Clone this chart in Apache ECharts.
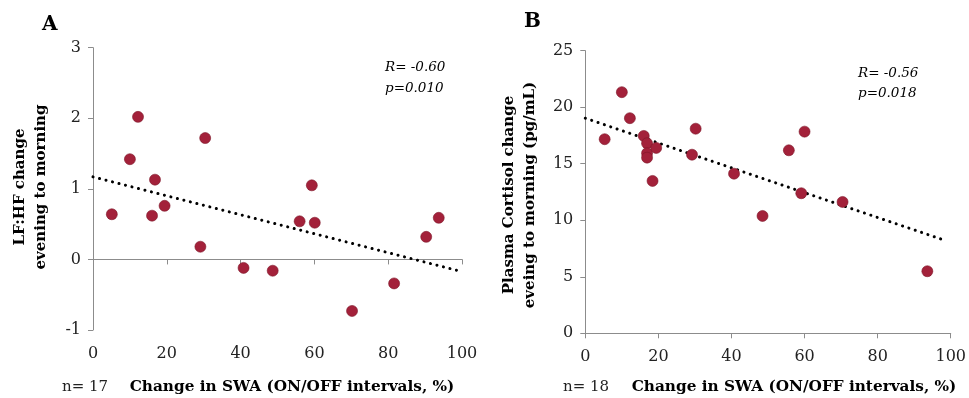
<!DOCTYPE html>
<html><head><meta charset="utf-8">
<script src="https://cdn.jsdelivr.net/npm/echarts@6/dist/echarts.min.js"></script>
<style>html,body{margin:0;padding:0;background:#fff}#c{width:969px;height:398px}</style>
</head><body><div id="c"></div>
<script>
// Panel A: LF:HF change vs change in SWA
const swaA = [5.1, 10.0, 12.2, 16.8, 16.0, 19.4, 30.4, 29.1, 40.8, 48.7, 56.0, 59.3, 60.1, 70.2, 81.6, 90.3, 93.7];
const lfhfA = [0.64, 1.42, 2.02, 1.13, 0.62, 0.76, 1.72, 0.18, -0.12, -0.16, 0.54, 1.05, 0.52, -0.73, -0.34, 0.32, 0.59];
const trendAx = [0, 99];
const trendAy = [1.17, -0.16];
// Panel B: Plasma cortisol change vs change in SWA
const swaB = [5.3, 10.0, 12.2, 16.0, 16.9, 16.9, 16.9, 19.4, 18.4, 30.2, 29.2, 40.7, 55.7, 60.0, 59.1, 48.5, 70.4, 93.6];
const cortB = [17.17, 21.33, 19.03, 17.46, 16.81, 15.93, 15.54, 16.40, 13.48, 18.1, 15.8, 14.12, 16.19, 17.84, 12.39, 10.38, 11.62, 5.49];
const trendBx = [0, 98.7];
const trendBy = [19.03, 8.19];
const xTicks = [0, 20, 40, 60, 80, 100];
const yTicksA = [-1, 0, 1, 2, 3];
const yTicksB = [0, 5, 10, 15, 20, 25];

const pairs = (xs, ys) => xs.map((x, i) => [x, ys[i]]);
const SERIF = '"DejaVu Serif", serif';
const lbl = (m) => ({fontFamily: SERIF, fontSize: 16, color: '#222', margin: m});
const axisCommon = {
  axisLine: {show: true, lineStyle: {color: '#8c8c8c', width: 1}},
  axisTick: {show: true, inside: false, length: 5, lineStyle: {color: '#8c8c8c'}},
  splitLine: {show: false}
};
const mk = (o) => Object.assign({}, JSON.parse(JSON.stringify(axisCommon)), o);
const scatterStyle = {color: '#A3213A', borderColor: '#7e1529', borderWidth: 0.6, opacity: 1};
const trendStyle = {color: '#000', width: 3, type: [0.1, 6.6], cap: 'round'};

const chart = echarts.init(document.getElementById('c'), null, {renderer: 'canvas'});
chart.setOption({
  animation: false,
  grid: [
    {left: 93, top: 47.7, width: 369, height: 282.3},
    {left: 585.3, top: 50.7, width: 368.7, height: 282.6}
  ],
  xAxis: [
    mk({gridIndex: 0, type: 'value', min: xTicks[0], max: xTicks[xTicks.length-1], interval: 20, axisLabel: lbl(16)}),
    mk({gridIndex: 1, type: 'value', min: xTicks[0], max: xTicks[xTicks.length-1], interval: 20, axisLabel: lbl(16)})
  ],
  yAxis: [
    mk({gridIndex: 0, type: 'value', min: yTicksA[0], max: yTicksA[yTicksA.length-1], interval: 1, axisLabel: lbl(12)}),
    mk({gridIndex: 1, type: 'value', min: yTicksB[0], max: yTicksB[yTicksB.length-1], interval: 5, axisLabel: lbl(12)})
  ],
  series: [
    {type: 'line', xAxisIndex: 0, yAxisIndex: 0, data: pairs(trendAx, trendAy), symbol: 'none', lineStyle: trendStyle, z: 1},
    {type: 'scatter', xAxisIndex: 0, yAxisIndex: 0, data: pairs(swaA, lfhfA), symbolSize: 11, itemStyle: scatterStyle, z: 2},
    {type: 'line', xAxisIndex: 1, yAxisIndex: 1, data: pairs(trendBx, trendBy), symbol: 'none', lineStyle: trendStyle, z: 1},
    {type: 'scatter', xAxisIndex: 1, yAxisIndex: 1, data: pairs(swaB, cortB), symbolSize: 11, itemStyle: scatterStyle, z: 2}
  ],
  graphic: [
    {type: 'text', left: 42, top: 15, style: {text: 'A', font: 'bold 20px ' + SERIF, fill: '#000'}},
    {type: 'text', left: 524, top: 12, style: {text: 'B', font: 'bold 20px ' + SERIF, fill: '#000'}},
    {type: 'text', x: 385, y: 57, style: {text: 'R= -0.60\np=0.010', font: 'italic 13.5px ' + SERIF, fill: '#000', lineHeight: 21}},
    {type: 'text', x: 858, y: 63, style: {text: 'R= -0.56\np=0.018', font: 'italic 13.5px ' + SERIF, fill: '#000', lineHeight: 20}},
    {type: 'text', x: 31, y: 187, rotation: Math.PI/2, style: {text: 'LF:HF change\nevening to morning', font: 'bold 15px ' + SERIF, fill: '#000', align: 'center', verticalAlign: 'middle', lineHeight: 21}},
    {type: 'text', x: 520, y: 195, rotation: Math.PI/2, style: {text: 'Plasma Cortisol change\neveing to morning (pg/mL)', font: 'bold 15px ' + SERIF, fill: '#000', align: 'center', verticalAlign: 'middle', lineHeight: 21}},
    {type: 'text', x: 62, y: 387, style: {text: 'n= 17', font: '15px ' + SERIF, fill: '#222', verticalAlign: 'middle'}},
    {type: 'text', x: 563, y: 387, style: {text: 'n= 18', font: '15px ' + SERIF, fill: '#222', verticalAlign: 'middle'}},
    {type: 'text', x: 292, y: 387, style: {text: 'Change in SWA (ON/OFF intervals, %)', font: 'bold 15.3px ' + SERIF, fill: '#000', align: 'center', verticalAlign: 'middle'}},
    {type: 'text', x: 794, y: 387, style: {text: 'Change in SWA (ON/OFF intervals, %)', font: 'bold 15.3px ' + SERIF, fill: '#000', align: 'center', verticalAlign: 'middle'}}
  ]
});
</script></body></html>
